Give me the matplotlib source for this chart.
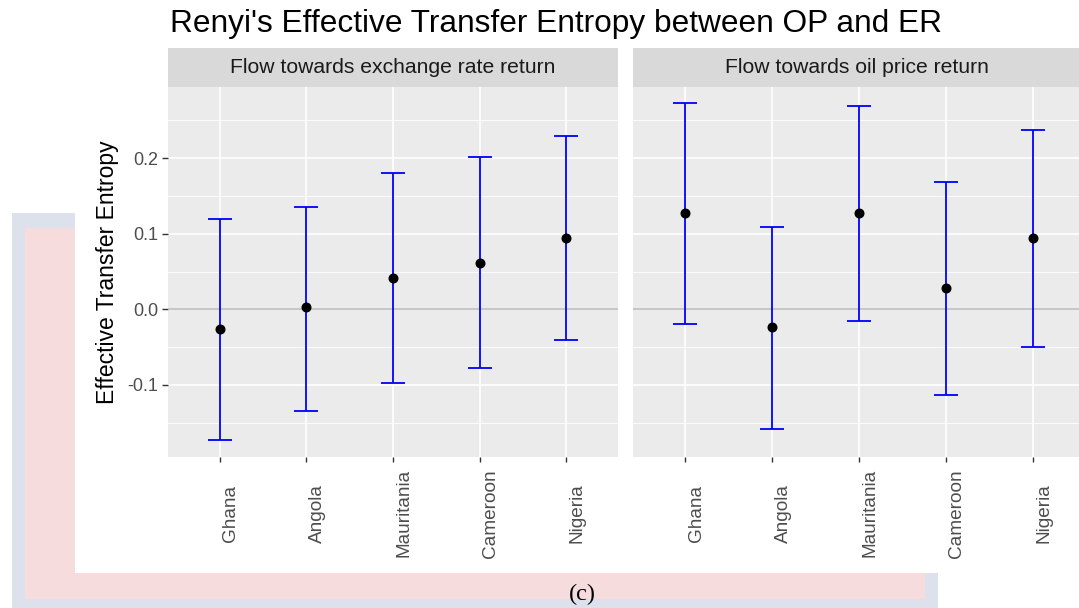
import matplotlib
matplotlib.use("Agg")
import matplotlib.pyplot as plt
from matplotlib.patches import Rectangle
from matplotlib.transforms import ScaledTranslation
import numpy as np

countries = ["Ghana", "Angola", "Mauritania", "Cameroon", "Nigeria"]
panels = ["Flow towards exchange rate return", "Flow towards oil price return"]
# Flow towards exchange rate return
er_est = [-0.026, 0.003, 0.042, 0.061, 0.095]
er_lo = [-0.173, -0.134, -0.098, -0.077, -0.040]
er_hi = [0.119, 0.135, 0.180, 0.201, 0.229]
# Flow towards oil price return
op_est = [0.127, -0.024, 0.127, 0.028, 0.094]
op_lo = [-0.020, -0.159, -0.015, -0.113, -0.050]
op_hi = [0.273, 0.109, 0.269, 0.168, 0.237]
yticks = [-0.1, 0.0, 0.1, 0.2]
ytick_labels = ["-0.1", "0.0", "0.1", "0.2"]
minor_y = [-0.15, -0.05, 0.05, 0.15, 0.25]

W, H = 1079, 608
plt.rcParams['font.family'] = ['Liberation Sans', 'DejaVu Sans']
fig = plt.figure(figsize=(W / 100, H / 100), dpi=100)

def fr(x0, y0, x1, y1):
    # pixel box (top-left origin) -> figure fraction [l, b, w, h]
    return [x0 / W, 1 - y1 / H, (x1 - x0) / W, (y1 - y0) / H]

def rect(x0, y0, x1, y1, color, z=-10):
    l, b, w, h = fr(x0, y0, x1, y1)
    fig.patches.append(Rectangle((l, b), w, h, transform=fig.transFigure,
                                 facecolor=color, edgecolor='none', zorder=z))

# watermark background
rect(12, 213, 938, 620, '#DDE1EB', -10)
rect(25, 228, 925, 599, '#F7DCDE', -9)
# ggplot white area
rect(75, 0, 1079, 573, '#FFFFFF', -8)

fig.text(582 / W, 1 - 594 / H, "(c)", family='Liberation Serif', fontsize=17.5,
         ha='center', va='center', color='black')

fig.text(170 / W, 1 - 24 / H, "Renyi's Effective Transfer Entropy between OP and ER",
         fontsize=22.8, ha='left', va='center', color='black')

xs = np.arange(1, len(countries) + 1)
data = [(er_est, er_lo, er_hi), (op_est, op_lo, op_hi)]
boxes = [(168, 618), (633, 1085)]
for i, ((est, lo, hi), (x0, x1), title) in enumerate(zip(data, boxes, panels)):
    ax = fig.add_axes(fr(x0, 87, x1, 457))
    ax.set_facecolor('#EBEBEB')
    ax.set_xlim(0.4, 5.6)
    ax.set_ylim(-0.1954, 0.2943)
    for y in minor_y:
        ax.axhline(y, color='white', lw=0.6, zorder=1)
    for y in yticks:
        ax.axhline(y, color='white', lw=1.2, zorder=1)
    for x in xs:
        ax.axvline(x, color='white', lw=1.2, zorder=1)
    ax.axhline(0, color='#BDBDBD', lw=1.2, zorder=2)
    est = np.array(est); lo = np.array(lo); hi = np.array(hi)
    ax.errorbar(xs, est, yerr=[est - lo, hi - est], fmt='none', ecolor='#0000FF',
                elinewidth=1.3, capsize=8.5, capthick=1.3, zorder=3)
    ax.plot(xs, est, 'o', color='black', markersize=6.2, zorder=4)
    for s in ax.spines.values():
        s.set_visible(False)
    ax.set_xticks(xs)
    ax.set_xticklabels(countries, rotation=90, va='center', ha='center',
                       fontsize=13.7, color='#4D4D4D')
    ax.tick_params(axis='x', length=3.5, width=1, color='#333333', pad=37)
    off = ScaledTranslation(11 / 100, 0, fig.dpi_scale_trans)
    for lab in ax.get_xticklabels():
        lab.set_transform(lab.get_transform() + off)
    ax.set_yticks(yticks)
    if i == 0:
        ax.set_yticklabels(ytick_labels, fontsize=13, color='#4D4D4D')
        ax.tick_params(axis='y', length=4, width=1, color='#333333', pad=3)
        ax.set_ylabel("Effective Transfer Entropy", fontsize=16.5, color='black', labelpad=6)
    else:
        ax.tick_params(axis='y', length=0, labelleft=False)
    # strip
    sax = fig.add_axes(fr(x0, 48, x1, 87))
    sax.set_facecolor('#D9D9D9')
    sax.set_xticks([]); sax.set_yticks([])
    for s in sax.spines.values():
        s.set_visible(False)
    sax.text(0.5 if i == 0 else (857 - x0) / (x1 - x0), 0.5, title, transform=sax.transAxes,
             ha='center', va='center', fontsize=15.2, color='#1A1A1A')

fig.savefig("out.png", dpi=100)
